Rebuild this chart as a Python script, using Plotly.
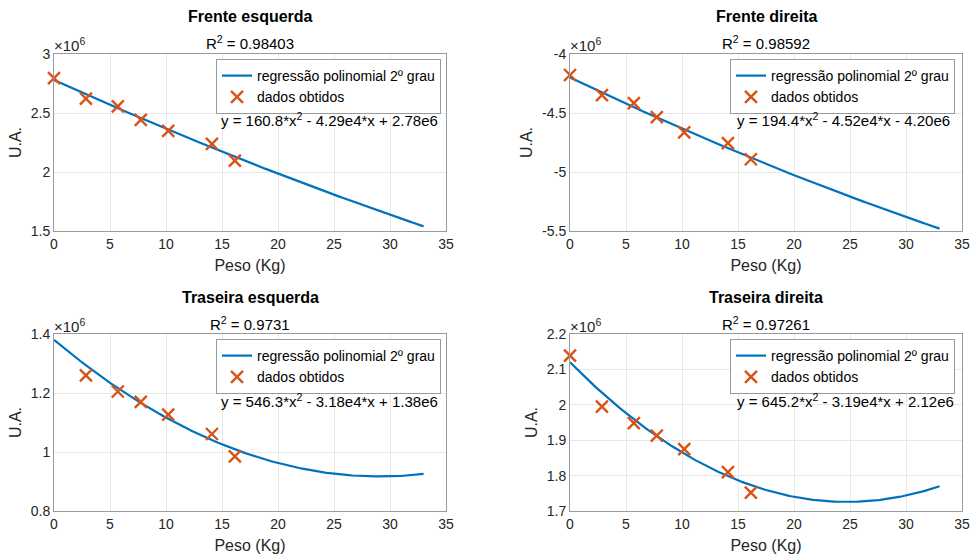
import numpy as np
import plotly.graph_objects as go

# ---- data (y values in units of 10^6) ----
peso = [0, 2.85, 5.7, 7.75, 10.2, 14.1, 16.15]

titles = ["Frente esquerda", "Frente direita", "Traseira esquerda", "Traseira direita"]
r2_text = ["0.98403", "0.98592", "0.9731", "0.97261"]
eq_text = [
    "y = 160.8*x<sup>2</sup> - 4.29e4*x + 2.78e6",
    "y = 194.4*x<sup>2</sup> - 4.52e4*x - 4.20e6",
    "y = 546.3*x<sup>2</sup> - 3.18e4*x + 1.38e6",
    "y = 645.2*x<sup>2</sup> - 3.19e4*x + 2.12e6",
]

frente_esquerda = [2.796, 2.621, 2.556, 2.442, 2.349, 2.239, 2.097]
frente_direita = [-4.178, -4.348, -4.416, -4.535, -4.665, -4.756, -4.892]
traseira_esquerda = [1.403, 1.260, 1.205, 1.170, 1.127, 1.061, 0.985]
traseira_direita = [2.139, 1.995, 1.948, 1.913, 1.875, 1.810, 1.752]

# polynomial coefficients shown on the chart (a*x^2 + b*x + c)
coef_fe = [160.8, -4.29e4, 2.78e6]
coef_fd = [194.4, -4.52e4, -4.20e6]
coef_te = [546.3, -3.18e4, 1.38e6]
coef_td = [645.2, -3.19e4, 2.12e6]

fit_x_max = 33

y_ranges = [[1.5, 3], [-5.5, -4], [0.8, 1.4], [1.7, 2.2]]
y_tickvals = [
    [1.5, 2, 2.5, 3],
    [-5.5, -5, -4.5, -4],
    [0.8, 1, 1.2, 1.4],
    [1.7, 1.8, 1.9, 2.0, 2.1, 2.2],
]
y_ticktext = [
    ["1.5", "2", "2.5", "3"],
    ["-5.5", "-5", "-4.5", "-4"],
    ["0.8", "1", "1.2", "1.4"],
    ["1.7", "1.8", "1.9", "2", "2.1", "2.2"],
]
x_tickvals = [0, 5, 10, 15, 20, 25, 30, 35]

series = [frente_esquerda, frente_direita, traseira_esquerda, traseira_direita]
coefs = [coef_fe, coef_fd, coef_te, coef_td]

# ---- layout geometry (pixels) ----
W, H = 973, 559
x_doms_px = [(54, 446), (570, 962), (54, 446), (570, 962)]
y_doms_px = [(54, 231), (54, 231), (334, 511), (334, 511)]

def px_x(p):
    return p / W

def px_y(p):
    return 1 - p / H

FONT = "Liberation Sans, Arial, Helvetica, sans-serif"
TXT = "#262626"
BLUE = "#0072BD"
ORANGE = "#D95319"

fig = go.Figure()
xfit = np.linspace(0, fit_x_max, 200)

annotations = []
for i in range(4):
    ax = "" if i == 0 else str(i + 1)
    leg = "legend" if i == 0 else f"legend{i + 1}"
    yfit = np.polyval(coefs[i], xfit) / 1e6
    fig.add_trace(go.Scatter(
        x=xfit, y=yfit, mode="lines",
        line=dict(color=BLUE, width=2.2),
        name="regressão polinomial 2º grau",
        xaxis="x" + ax, yaxis="y" + ax, legend=leg,
    ))
    fig.add_trace(go.Scatter(
        x=peso, y=series[i], mode="markers",
        marker=dict(symbol="x-thin-open", size=12, color=ORANGE,
                    line=dict(color=ORANGE, width=2.4)),
        name="dados obtidos", cliponaxis=False,
        xaxis="x" + ax, yaxis="y" + ax, legend=leg,
    ))

    x0, x1 = x_doms_px[i]
    y0, y1 = y_doms_px[i]
    axis_common = dict(
        showline=True, mirror=True, linecolor="#9a9a9a", linewidth=1,
        showgrid=True, gridcolor="#e8e8e8", gridwidth=1,
        zeroline=False, ticks="", automargin=False,
        tickfont=dict(family=FONT, size=14, color=TXT),
    )
    fig.update_layout(**{
        "xaxis" + ax: dict(
            domain=[px_x(x0), px_x(x1)], range=[0, 35],
            tickvals=x_tickvals, anchor="y" + ax,
            title=dict(text="Peso (Kg)", font=dict(family=FONT, size=16, color=TXT), standoff=9),
            **axis_common,
        ),
        "yaxis" + ax: dict(
            domain=[px_y(y1), px_y(y0)], range=y_ranges[i],
            tickvals=y_tickvals[i], ticktext=y_ticktext[i], anchor="x" + ax,
            title=dict(text="U.A.", font=dict(family=FONT, size=16, color=TXT), standoff=5),
            **axis_common,
        ),
        leg: dict(
            x=px_x(x1 - 5 if i % 2 == 0 else x1 - 7), y=px_y(y0 + 5),
            xanchor="right", yanchor="top",
            bgcolor="white", bordercolor="#9a9a9a", borderwidth=1,
            font=dict(family=FONT, size=14, color="black"),
            itemwidth=30, tracegroupgap=0,
        ),
    })

    cx = (x0 + x1) / 2
    annotations.append(dict(
        text=f"<b>{titles[i]}</b>", x=px_x(cx), y=px_y(y0 - 37),
        xref="paper", yref="paper", showarrow=False,
        font=dict(family=FONT, size=16, color="black"),
        xanchor="center", yanchor="middle",
    ))
    annotations.append(dict(
        text=f"R<sup>2</sup> = {r2_text[i]}", x=px_x(cx), y=px_y(y0 - 11),
        xref="paper", yref="paper", showarrow=False,
        font=dict(family=FONT, size=15, color="black"),
        xanchor="center", yanchor="middle",
    ))
    annotations.append(dict(
        text="×10<sup>6</sup>", x=px_x(x0 - 2), y=px_y(y0 - 9),
        xref="paper", yref="paper", showarrow=False,
        font=dict(family=FONT, size=15, color=TXT),
        xanchor="left", yanchor="middle",
    ))
    annotations.append(dict(
        text=eq_text[i], x=px_x(x0 + 165), y=px_y(y0 + 66),
        xref="paper", yref="paper", showarrow=False,
        font=dict(family=FONT, size=15, color="black"),
        xanchor="left", yanchor="middle",
    ))

fig.update_layout(
    width=W, height=H,
    margin=dict(l=0, r=0, t=0, b=0),
    paper_bgcolor="white", plot_bgcolor="white",
    annotations=annotations,
    font=dict(family=FONT, color=TXT),
)

fig.write_html("out.html")
